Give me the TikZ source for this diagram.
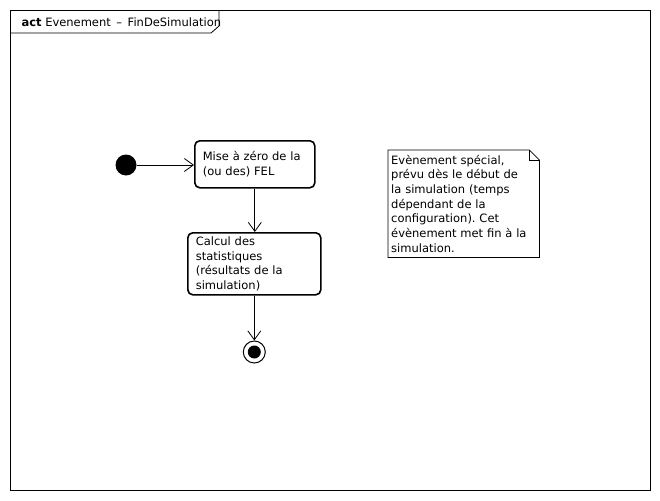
\documentclass[tikz,border=0pt]{standalone}
\usepackage{fontspec}
\setmainfont{DejaVu Sans}
\usetikzlibrary{arrows.meta}
\frenchspacing

\tikzset{
  texte/.style={font=\fontsize{11.5}{14.7}\selectfont},
  action/.style={texte, draw, line width=1.6pt, rounded corners=5pt, anchor=north west,
    align=left, inner xsep=8pt, inner ysep=0pt},
  debut/.style={circle, fill=black, minimum size=21pt, inner sep=0pt},
  fin/.style={circle, draw, line width=1pt, minimum size=22pt, inner sep=0pt,
    path picture={\fill (path picture bounding box.center) circle (6.5pt);}},
  flot/.style={-{Straight Barb[length=9pt,width=13pt]}, line width=0.8pt},
  memo/.style={texte, anchor=north west, align=left, inner xsep=3pt, inner ysep=0pt},
}

\begin{document}
\begin{tikzpicture}[x=1pt,y=-1pt]
    \useasboundingbox (0,0) rectangle (660,500);
    % cadre et onglet
    \draw[line width=0.8pt] (10,10) rectangle (650,490);
    \draw[line width=0.8pt] (10,33) -- (211,33) -- (219,26) -- (219,10);
    \node[texte, anchor=west] (titre) at (18,22) {\textbf{act} Evenement \,--\, FinDeSimulation};

    % noeuds
    \node[debut] (init) at (126,165) {};
    \node[action, text width=104pt, minimum height=47pt] (raz) at (194,140)
        {Mise à zéro de la\\(ou des) FEL};
    \node[action, text width=117pt, minimum height=62pt] (calcul) at (187,232)
        {Calcul des\\statistiques\\(résultats de la\\simulation)};
    \node[fin] (final) at (calcul.south |- 0,352) {};

    % transitions
    \draw[flot] (init) -- (init -| raz.west);
    \draw[flot] (raz.south) -- (raz.south |- calcul.north);
    \draw[flot] (calcul.south) -- (final.north);

    % note
    \node[memo, text width=145pt, minimum height=107pt] (remarque) at (388,150)
        {Evènement spécial,\\prévu dès le début de\\la simulation (temps\\dépendant de la\\configuration). Cet\\évènement met fin à la\\simulation.};
    \draw[line width=0.8pt] (remarque.north west) -- ([xshift=-10pt]remarque.north east)
        -- ([yshift=-10pt]remarque.north east) -- (remarque.south east)
        -- (remarque.south west) -- cycle;
    \draw[line width=0.8pt] ([xshift=-10pt]remarque.north east) -- ([xshift=-10pt,yshift=-10pt]remarque.north east)
        -- ([yshift=-10pt]remarque.north east);
\end{tikzpicture}
\end{document}
